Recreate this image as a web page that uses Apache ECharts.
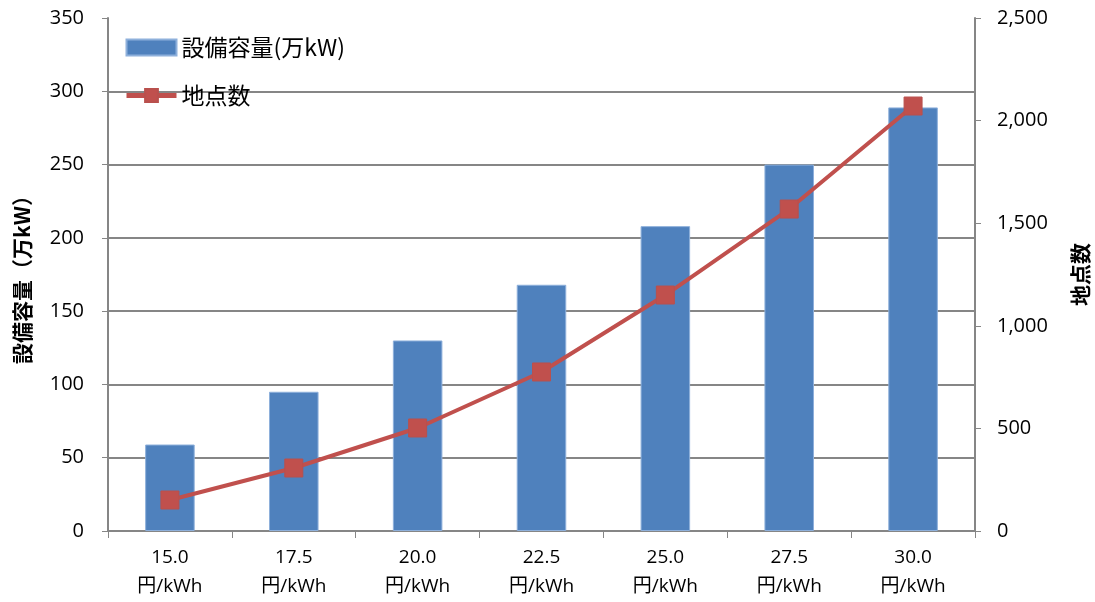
<!DOCTYPE html>
<html><head><meta charset="utf-8">
<script src="https://cdn.jsdelivr.net/npm/echarts@6/dist/echarts.min.js"></script>
<style>html,body{margin:0;padding:0;background:#fff}#c{width:1095px;height:602px}</style>
</head><body><div id="c"></div>
<script>
const categories = ['15.0\n円/kWh','17.5\n円/kWh','20.0\n円/kWh','22.5\n円/kWh','25.0\n円/kWh','27.5\n円/kWh','30.0\n円/kWh'];
const capacity = [59, 95, 130, 168, 208, 250, 289];
const sites = [151, 307, 502, 775, 1150, 1569, 2071];
const leftTicks = {min: 0, max: 350, interval: 50};
const rightTicks = {min: 0, max: 2500, interval: 500};
const FONT = '"Open Sans", "Noto Sans CJK JP", sans-serif';
const CJK = '"Noto Sans CJK JP", sans-serif';
const chart = echarts.init(document.getElementById('c'), null, {renderer: 'canvas'});
chart.setOption({
  animation: false,
  textStyle: {fontFamily: FONT},
  grid: {left: 108, right: 120, top: 18, bottom: 71, outerBoundsMode: 'none', containLabel: false},
  legend: {
    orient: 'vertical', left: 119, top: 31, itemGap: 25,
    itemWidth: 50, itemHeight: 16,
    textStyle: {fontSize: 23, color: '#000', fontFamily: CJK},
    lineStyle: {width: 5},
    data: [{name: '設備容量(万kW)', icon: 'rect'}, {name: '地点数'}]
  },
  xAxis: {
    type: 'category', data: categories,
    axisLine: {lineStyle: {color: '#868686', width: 2}},
    axisTick: {show: true, length: 7, lineStyle: {color: '#868686', width: 1}},
    axisLabel: {fontSize: 19, color: '#000', lineHeight: 29, margin: 12, fontFamily: FONT}
  },
  yAxis: [{
    type: 'value', position: 'left', ...leftTicks,
    name: '設備容量（万kW）', nameLocation: 'middle', nameGap: 75, nameRotate: 90,
    nameTextStyle: {fontSize: 21, fontWeight: 'bold', color: '#000', fontFamily: CJK},
    axisLine: {show: true, lineStyle: {color: '#868686', width: 2}},
    axisTick: {show: true, length: 6, lineStyle: {color: '#868686'}},
    axisLabel: {fontSize: 20, color: '#000', margin: 24, fontFamily: FONT},
    splitLine: {show: true, showMaxLine: false, lineStyle: {color: '#868686', width: 2}}
  }, {
    type: 'value', position: 'right', ...rightTicks,
    name: '地点数', nameLocation: 'middle', nameGap: 95, nameRotate: 90,
    nameTextStyle: {fontSize: 21, fontWeight: 'bold', color: '#000', fontFamily: CJK},
    axisLine: {show: true, lineStyle: {color: '#868686', width: 2}},
    axisTick: {show: true, length: 6, lineStyle: {color: '#868686'}},
    axisLabel: {fontSize: 20, color: '#000', margin: 22, fontFamily: FONT,
      formatter: v => v.toLocaleString('en-US')},
    splitLine: {show: false}
  }],
  series: [{
    name: '設備容量(万kW)', type: 'bar', yAxisIndex: 0, data: capacity,
    barWidth: '40%',
    itemStyle: {color: '#4F81BD', borderColor: '#8EB0DB', borderWidth: 1}
  }, {
    name: '地点数', type: 'line', yAxisIndex: 1, data: sites,
    symbol: 'rect', symbolSize: 18,
    lineStyle: {color: '#C0504D', width: 4},
    itemStyle: {color: '#C0504D', borderColor: '#B9504D', borderWidth: 1}
  }]
});
</script></body></html>
